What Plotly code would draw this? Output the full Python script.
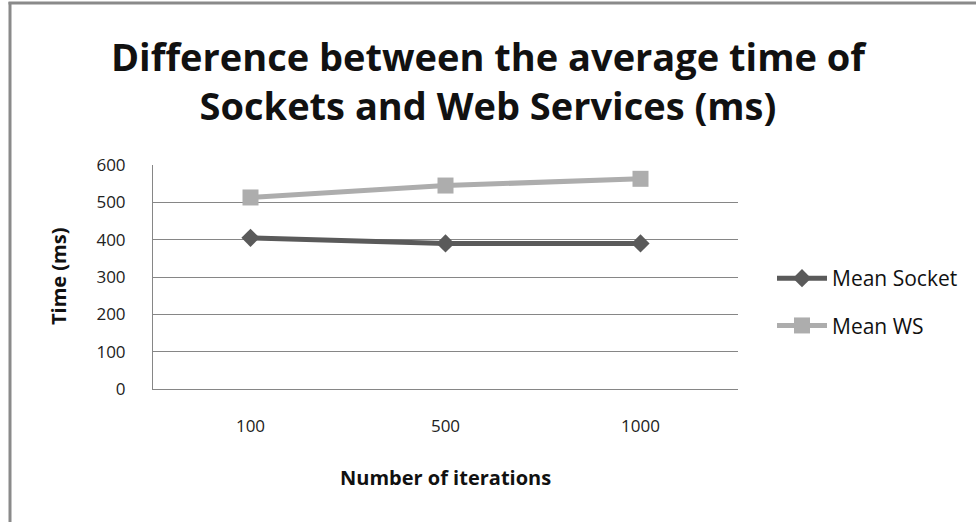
import plotly.graph_objects as go

iterations = ["100", "500", "1000"]
mean_socket = [405, 390, 390]
mean_ws = [513, 545, 563]
y_ticks = [0, 100, 200, 300, 400, 500, 600]

FONT = "Open Sans"
GRID = "#868686"

# plot area in pixels
L, R, T, B = 153, 738, 165, 389
W, H = 976, 522

def px(x):
    return (x - L) / (R - L)

def py(y):
    return (B - y) / (B - T)

fig = go.Figure()
fig.add_trace(go.Scatter(
    x=iterations, y=mean_socket, name="Mean Socket", mode="lines+markers",
    line=dict(color="#5a5a5a", width=5),
    marker=dict(symbol="diamond", size=14, color="#5a5a5a"),
    legendgroup="a"))
fig.add_trace(go.Scatter(
    x=iterations, y=mean_ws, name="Mean WS", mode="lines+markers",
    line=dict(color="#adadad", width=5),
    marker=dict(symbol="square", size=16, color="#adadad"),
    legendgroup="b"))

fig.update_layout(
    width=W, height=H,
    margin=dict(l=L, r=W - R, t=T, b=H - B, pad=0),
    paper_bgcolor="white", plot_bgcolor="white",
    font=dict(family=FONT, size=17, color="#222222"),
    title=dict(text="Difference between the average time of<br>Sockets and Web Services (ms)",
               x=0.5, xanchor="center", y=1 - 71 / H, yanchor="middle",
               font=dict(family=FONT, size=38, color="#111111", weight="bold")),
    showlegend=True,
    legend=dict(x=px(772), xanchor="left", y=py(258), yanchor="top",
                traceorder="grouped", tracegroupgap=17,
                font=dict(family=FONT, size=21, color="#111111"),
                itemwidth=50, bgcolor="rgba(0,0,0,0)"),
    xaxis=dict(type="category", range=[-0.5, 2.5], showgrid=False, showline=True,
               linecolor=GRID, linewidth=1, ticks="", ticklabelstandoff=22,
               tickfont=dict(family=FONT, size=17, color="#222222")),
    yaxis=dict(range=[0, 600], tickvals=y_ticks, showgrid=True, gridcolor=GRID,
               gridwidth=1, showline=True, linecolor=GRID, linewidth=1,
               zeroline=False, ticks="", ticklabelstandoff=23,
               tickfont=dict(family=FONT, size=17, color="#222222")),
    annotations=[
        dict(text="<b>Time (ms)</b>", xref="paper", yref="paper", x=px(58), y=0.5,
             xanchor="center", yanchor="middle", textangle=-90, showarrow=False,
             font=dict(family=FONT, size=20, color="#111111")),
        dict(text="<b>Number of iterations</b>", xref="paper", yref="paper",
             x=0.5, y=py(477), xanchor="center", yanchor="middle", showarrow=False,
             font=dict(family=FONT, size=20, color="#111111")),
    ],
    shapes=[
        dict(type="line", xref="paper", yref="paper", x0=px(10), x1=px(10),
             y0=py(2), y1=py(530), line=dict(color="#8a8a8a", width=3)),
        dict(type="line", xref="paper", yref="paper", x0=px(8.5), x1=px(990),
             y0=py(3), y1=py(3), line=dict(color="#8a8a8a", width=3)),
    ],
)

fig.write_html("out.html")
